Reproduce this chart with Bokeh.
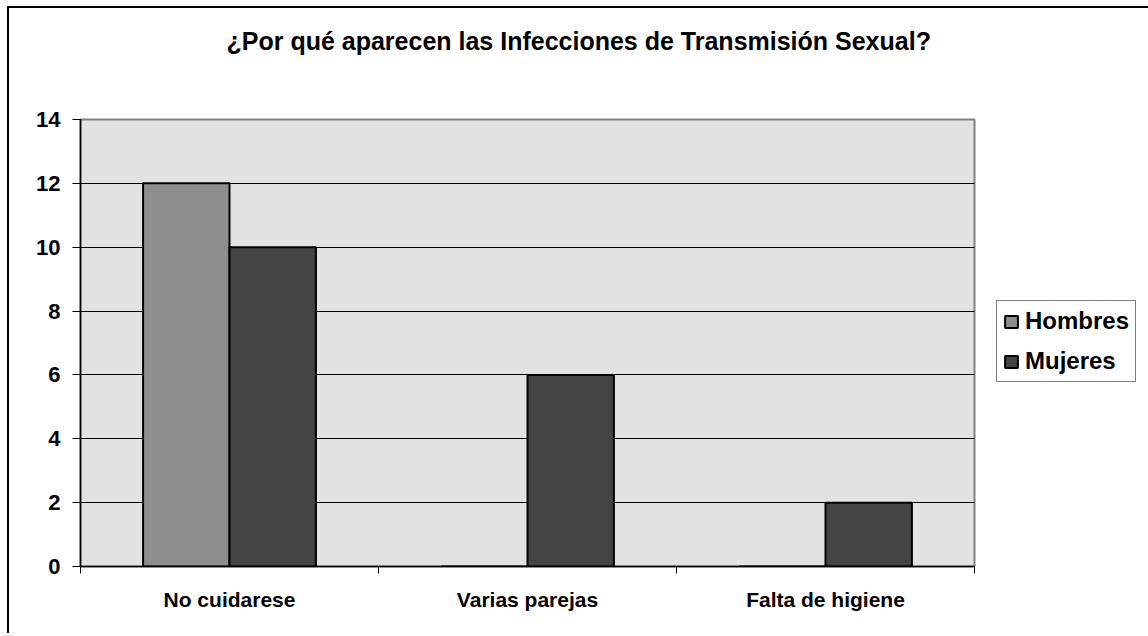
from bokeh.plotting import figure
from bokeh.models import ColumnDataSource, Range1d, FixedTicker, Legend, LegendItem, Title
from bokeh.transform import dodge
from bokeh.embed import file_html
from bokeh.resources import INLINE

title_text = "¿Por qué aparecen las Infecciones de Transmisión Sexual?"
categories = ["No cuidarese", "Varias parejas", "Falta de higiene"]
hombres = [12, 0, 0]
mujeres = [10, 6, 2]
y_ticks = [0, 2, 4, 6, 8, 10, 12, 14]
series_names = ["Hombres", "Mujeres"]

FONT = "Liberation Sans"

centers = [i + 0.5 for i in range(len(categories))]
src = ColumnDataSource(dict(x=centers, hombres=hombres, mujeres=mujeres))

p = figure(frame_width=894, frame_height=447, output_backend="svg", toolbar_location=None,
           x_range=Range1d(0, len(categories)), y_range=Range1d(0, 14),
           min_border_left=71, min_border_right=171, min_border_top=111, min_border_bottom=67)
p.title = None
p.styles = {"border-top": "2px solid black", "border-left": "2px solid black",
            "margin-left": "7px", "margin-top": "6px"}

p.background_fill_color = "#e2e2e2"
p.border_fill_color = "white"
p.outline_line_color = "#808080"
p.outline_line_width = 2

# spacer between title and plot area
p.add_layout(Title(text=" ", text_font_size="10px", standoff=47), "above")
p.add_layout(Title(text=title_text, text_font=FONT, text_font_style="bold",
                   text_font_size="25px", text_color="black", align="left",
                   offset=146), "above")

bw = 0.29
r_h = p.vbar(x=dodge("x", -bw / 2, range=p.x_range), top="hombres", width=bw, source=src,
             fill_color="#8e8e8e", line_color="black", line_width=2)
r_m = p.vbar(x=dodge("x", bw / 2, range=p.x_range), top="mujeres", width=bw, source=src,
             fill_color="#444444", line_color="black", line_width=2)

# axes
xa = p.xaxis[0]
xa.ticker = FixedTicker(ticks=centers, minor_ticks=list(range(len(categories) + 1)))
xa.major_label_overrides = {c: n for c, n in zip(centers, categories)}
xa.major_tick_out = 0
xa.major_tick_in = 0
xa.minor_tick_out = 7
xa.minor_tick_in = 0
xa.minor_tick_line_color = "black"
xa.axis_line_color = "black"
xa.axis_line_width = 1.5
xa.major_label_standoff = 14
xa.major_label_text_font = FONT
xa.major_label_text_font_style = "bold"
xa.major_label_text_font_size = "21px"
xa.major_label_text_color = "black"

ya = p.yaxis[0]
ya.ticker = FixedTicker(ticks=y_ticks, minor_ticks=[])
ya.major_tick_out = 8
ya.major_tick_in = 0
ya.major_tick_line_color = "black"
ya.axis_line_color = "black"
ya.axis_line_width = 1.5
ya.major_label_standoff = 12
ya.major_label_text_font = FONT
ya.major_label_text_font_style = "bold"
ya.major_label_text_font_size = "22px"
ya.major_label_text_color = "black"

p.xgrid.visible = False
p.ygrid.ticker = FixedTicker(ticks=y_ticks[1:-1])
p.ygrid.grid_line_color = "black"
p.ygrid.grid_line_width = 1

legend = Legend(items=[LegendItem(label=series_names[0], renderers=[r_h]),
                       LegendItem(label=series_names[1], renderers=[r_m])],
                location=(22, 184))
legend.border_line_color = "black"
legend.border_line_width = 1
legend.background_fill_color = "white"
legend.background_fill_alpha = 1
legend.padding = 6
legend.margin = 0
legend.spacing = 12
legend.label_height = 28
legend.glyph_width = 16
legend.glyph_height = 15
legend.label_standoff = 6
legend.label_text_font = FONT
legend.label_text_font_style = "bold"
legend.label_text_font_size = "24px"
legend.label_text_color = "black"
p.add_layout(legend, "right")

open("out.html", "w").write(file_html(p, INLINE))
